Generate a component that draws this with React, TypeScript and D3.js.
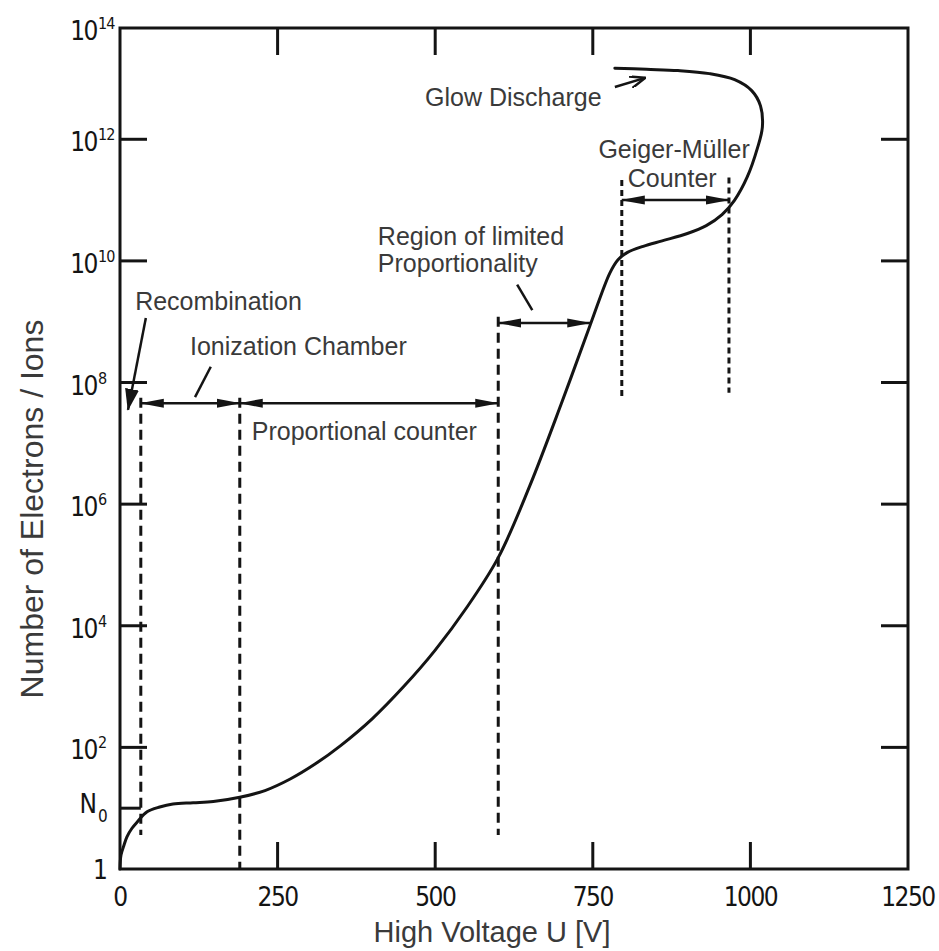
import React from "react";
import * as d3 from "d3";

// ---- data ----
const xTickValues = [0, 250, 500, 750, 1000, 1250];
const xInnerTicks = [250, 500, 750, 1000];
const yTickExponents = [2, 4, 6, 8, 10, 12];
const yTopExponent = 14;
const n0Exponent = 1.0;

// characteristic curve: voltage [V] and log10(number of electrons / ions), in drawing order
const curveVoltage = [0, 1.6, 6.3, 11, 19, 27, 43, 63, 84, 116, 148, 190, 230, 270, 310, 350, 400, 450, 500, 550, 600, 650, 700, 746, 777, 790, 805, 830, 860, 900, 930, 955, 975, 995, 1011, 1019, 1016, 1002, 975, 935, 885, 835, 785];
const curveLog10N = [0, 0.23, 0.39, 0.53, 0.67, 0.77, 0.94, 1.02, 1.07, 1.09, 1.11, 1.18, 1.29, 1.48, 1.73, 2.03, 2.47, 3.0, 3.6, 4.3, 5.12, 6.3, 7.65, 8.95, 9.8, 10.02, 10.14, 10.24, 10.33, 10.45, 10.58, 10.76, 11.0, 11.38, 11.85, 12.2, 12.55, 12.8, 12.98, 13.08, 13.13, 13.15, 13.17];

// dashed region boundaries
const dividerVoltage = [33, 190, 600, 796, 966];
const dividerTopExp = [7.75, 7.75, 9.08, 11.33, 11.37];
const dividerBottomExp = [0.56, 0, 0.56, 7.76, 7.83];
const dividerFine = [false, false, false, true, true];

// double-headed region arrows
const regionFrom = [33, 190, 600, 796];
const regionTo = [190, 600, 746, 966];
const regionExp = [7.66, 7.66, 8.98, 11.0];

// text labels (anchor voltage, anchor log10 N, alignment)
const labelText = ["Recombination", "Ionization Chamber", "Proportional counter", "Region of limited", "Proportionality", "Glow Discharge", "Geiger-Müller", "Counter"];
const labelVoltage = [24, 111, 209, 409, 409, 484, 879, 876];
const labelExp = [9.19, 8.45, 7.06, 10.26, 9.82, 12.55, 11.69, 11.22];
const labelAnchor = ["start", "start", "start", "start", "start", "start", "middle", "middle"];

// pointer lines [fromV, fromExp, toV, toExp]
const pointerFromV = [41, 144, 630, 785];
const pointerFromExp = [9.06, 8.26, 9.61, 12.86];
const pointerToV = [12.7, 119, 654, 833];
const pointerToExp = [7.55, 7.76, 9.19, 13.01];
const pointerHead = ["big", "none", "none", "open"];

const W = 939;
const H = 951;
const left = 120, right = 908, top = 28, bottom = 869;
const yMaxExp = 13.83;

export default function App() {
  const x = d3.scaleLinear().domain([0, 1250]).range([left, right]);
  const y = d3.scaleLog().domain([1, Math.pow(10, yMaxExp)]).range([bottom, top]);
  const yE = (e: number) => y(Math.pow(10, e));

  const pts: [number, number][] = curveVoltage.map((v, i) => [v, curveLog10N[i]]);
  const line = d3
    .line<[number, number]>()
    .x((d) => x(d[0]))
    .y((d) => yE(d[1]))
    .curve(d3.curveCatmullRom.alpha(0.5));

  const tickFont = "'DejaVu Sans Condensed', 'Liberation Sans', sans-serif";
  const textFont = "'Liberation Sans', Arial, sans-serif";
  const ink = "#141414";
  const textInk = "#3a3a3a";

  const tickLen = 27;

  return (
    <svg width={W} height={H} style={{ position: "absolute", left: 0, top: 0, display: "block" }}>
      <defs>
        <marker id="ah" viewBox="0 0 24 10" refX="23" refY="5" markerWidth="24" markerHeight="10" markerUnits="userSpaceOnUse" orient="auto-start-reverse">
          <path d="M0,0.5 L24,5 L0,9.5 Z" fill={ink} />
        </marker>
        <marker id="ahBig" viewBox="0 0 22 14" refX="21" refY="7" markerWidth="22" markerHeight="14" markerUnits="userSpaceOnUse" orient="auto">
          <path d="M0,0 L22,7 L0,14 Z" fill={ink} />
        </marker>
        <marker id="ahOpen" viewBox="0 0 16 12" refX="15" refY="6" markerWidth="16" markerHeight="12" markerUnits="userSpaceOnUse" orient="auto">
          <path d="M0,0 L15,6 L0,12" fill="none" stroke={ink} strokeWidth={2.5} />
        </marker>
      </defs>
      <rect x={0} y={0} width={W} height={H} fill="#fff" />

      {/* frame */}
      <rect x={left} y={top} width={right - left} height={bottom - top} fill="none" stroke={ink} strokeWidth={3} />

      {/* inner ticks x */}
      {xInnerTicks.map((v) => (
        <g key={"xt" + v}>
          <line x1={x(v)} x2={x(v)} y1={bottom} y2={bottom - tickLen} stroke={ink} strokeWidth={3} />
          <line x1={x(v)} x2={x(v)} y1={top} y2={top + tickLen} stroke={ink} strokeWidth={3} />
        </g>
      ))}
      {/* inner ticks y */}
      {yTickExponents.map((e) => (
        <g key={"yt" + e}>
          <line x1={left} x2={left + tickLen} y1={yE(e)} y2={yE(e)} stroke={ink} strokeWidth={3} />
          <line x1={right} x2={right - tickLen} y1={yE(e)} y2={yE(e)} stroke={ink} strokeWidth={3} />
        </g>
      ))}
      <line x1={left} x2={x(dividerVoltage[0])} y1={yE(n0Exponent)} y2={yE(n0Exponent)} stroke={ink} strokeWidth={3} />

      {/* x tick labels */}
      {xTickValues.map((v) => (
        <text key={"xl" + v} x={x(v)} y={906} textAnchor="middle" fontFamily={tickFont} fontSize={26} letterSpacing={-1.5} fill={ink}>
          {v}
        </text>
      ))}

      {/* y tick labels */}
      {yTickExponents.concat([yTopExponent]).map((e) => {
        const yy = Math.max(yE(e), top);
        return (
          <g key={"yl" + e} fontFamily={tickFont} fill={ink}>
            <text x={97} y={yy + 12} textAnchor="end" fontSize={26} letterSpacing={-1.5}>10</text>
            <text x={98} y={yy + 1} textAnchor="start" fontSize={16} letterSpacing={-1}>{e}</text>
          </g>
        );
      })}
      <g fontFamily={tickFont} fill={ink}>
        <text x={97} y={yE(n0Exponent) + 5} textAnchor="end" fontSize={26}>N</text>
        <text x={98} y={yE(n0Exponent) + 14} textAnchor="start" fontSize={17}>0</text>
        <text x={108} y={yE(0) + 10} textAnchor="end" fontSize={26}>1</text>
      </g>

      {/* axis titles */}
      <text x={492} y={942} textAnchor="middle" fontFamily={textFont} fontSize={29} fill={textInk}>
        High Voltage U [V]
      </text>
      <text transform={`translate(43,509) rotate(-90)`} textAnchor="middle" fontFamily={textFont} fontSize={32} fill={textInk}>
        Number of Electrons / Ions
      </text>

      {/* dashed dividers */}
      {dividerVoltage.map((v, i) => (
        <line
          key={"dv" + i}
          x1={x(v)}
          x2={x(v)}
          y1={yE(dividerTopExp[i])}
          y2={yE(dividerBottomExp[i])}
          stroke={ink}
          strokeWidth={3}
          strokeDasharray={dividerFine[i] ? "6 4" : "10 6"}
        />
      ))}

      {/* region arrows */}
      {regionFrom.map((v, i) => (
        <line
          key={"ra" + i}
          x1={x(v)}
          x2={x(regionTo[i])}
          y1={yE(regionExp[i])}
          y2={yE(regionExp[i])}
          stroke={ink}
          strokeWidth={2.5}
          markerStart="url(#ah)"
          markerEnd="url(#ah)"
        />
      ))}

      {/* pointers */}
      {pointerFromV.map((v, i) => (
        <line
          key={"pt" + i}
          x1={x(v)}
          y1={yE(pointerFromExp[i])}
          x2={x(pointerToV[i])}
          y2={yE(pointerToExp[i])}
          stroke={ink}
          strokeWidth={2.5}
          markerEnd={pointerHead[i] === "big" ? "url(#ahBig)" : pointerHead[i] === "open" ? "url(#ahOpen)" : undefined}
        />
      ))}

      {/* curve */}
      <path d={line(pts) || ""} fill="none" stroke={ink} strokeWidth={3} strokeLinejoin="round" strokeLinecap="round" />

      {/* labels */}
      {labelText.map((t, i) => (
        <text
          key={"lb" + i}
          x={x(labelVoltage[i])}
          y={yE(labelExp[i])}
          textAnchor={labelAnchor[i]}
          fontFamily={textFont}
          fontSize={25}
          fill={textInk}
        >
          {t}
        </text>
      ))}
    </svg>
  );
}
